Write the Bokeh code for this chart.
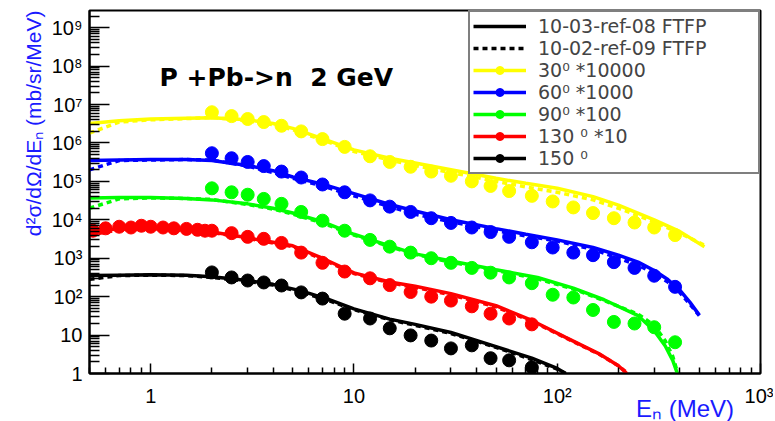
from bokeh.plotting import figure
from bokeh.models import Legend, LegendItem, Label, FixedTicker, Title
from bokeh.embed import file_html
from bokeh.resources import INLINE

# ---------------- data ----------------
# Monte-Carlo curves: 10-03-ref-08 FTFP (solid) and 10-02-ref-09 FTFP (dotted)
e_mc_30 = [0.5, 0.7, 1, 1.5, 2, 3, 4, 5, 7, 10, 15, 20, 30, 50, 70, 100, 150, 200, 300, 400, 530]
mc08_30 = [3.2e6, 3.8e6, 4.2e6, 4.4e6, 4.5e6, 4.0e6, 3.2e6, 2.4e6, 1.3e6, 6.6e5, 4.0e5, 3.0e5, 2.0e5,
           1.2e5, 8.9e4, 6.6e4, 4.0e4, 2.4e4, 1.0e4, 5.0e3, 2.0e3]
mc09_30 = [1.8e6, 3.5e6, 4.0e6, 4.3e6, 4.6e6, 3.8e6, 3.0e6, 2.2e6, 1.2e6, 6.0e5, 3.6e5, 2.6e5, 1.7e5,
           1.0e5, 7.2e4, 5.2e4, 3.3e4, 2.0e4, 8.9e3, 4.5e3, 2.2e3]

e_mc_60 = [0.5, 0.7, 1, 1.5, 2, 3, 4, 5, 7, 10, 15, 20, 30, 50, 70, 100, 150, 200, 250, 300, 350, 400, 450, 500]
mc08_60 = [3.5e5, 3.6e5, 3.7e5, 3.7e5, 3.5e5, 2.6e5, 1.9e5, 1.3e5, 8.5e4, 4.8e4, 2.5e4, 1.7e4, 1.0e4,
           5.9e3, 4.2e3, 3.0e3, 1.9e3, 1.2e3, 790, 480, 280, 150, 71, 33]
mc09_60 = [2.0e5, 3.5e5, 3.6e5, 3.7e5, 3.6e5, 2.5e5, 1.7e5, 1.2e5, 7.6e4, 4.2e4, 2.2e4, 1.4e4, 8.9e3,
           5.2e3, 3.8e3, 2.8e3, 1.7e3, 1.0e3, 660, 400, 240, 130, 63, 32]

e_mc_90 = [0.5, 0.7, 1, 1.5, 2, 3, 4, 5, 7, 10, 15, 20, 30, 50, 80, 120, 170, 250, 300, 340, 370, 390]
mc08_90 = [3.7e4, 3.8e4, 3.8e4, 3.6e4, 3.3e4, 2.6e4, 2.0e4, 1.5e4, 8.9e3, 4.2e3, 2.1e3, 1.3e3, 850,
           500, 316, 166, 83, 32, 13, 5.2, 2.2, 1.0]
mc09_90 = [2.0e4, 3.5e4, 3.7e4, 3.6e4, 3.4e4, 2.5e4, 1.9e4, 1.4e4, 8.3e3, 4.0e3, 2.0e3, 1.26e3, 790,
           480, 290, 158, 79, 35, 18, 7.1, 2.8, 1.1]

e_mc_130 = [0.5, 0.7, 1, 1.5, 2, 3, 4, 5, 7, 10, 15, 20, 30, 50, 75, 110, 160, 200, 220]
mc08_130 = [5.2e3, 5.8e3, 6.0e3, 5.6e3, 4.8e3, 3.4e3, 2.6e3, 2.1e3, 1.0e3, 417, 240, 186, 120, 58, 24,
            8.7, 3.3, 1.6, 1.0]
mc09_130 = [4.0e3, 5.5e3, 5.9e3, 5.5e3, 4.7e3, 3.3e3, 2.5e3, 2.0e3, 930, 400, 230, 174, 112, 54, 23,
            8.5, 3.2, 1.6, 1.05]

e_mc_150 = [0.5, 0.7, 1, 1.5, 2, 3, 4, 5.5, 7.5, 10, 15, 20, 30, 50, 75, 100, 110]
mc08_150 = [355, 363, 372, 363, 331, 263, 209, 141, 85, 48, 26, 19, 11.7, 5.0, 2.5, 1.35, 1.0]
mc09_150 = [282, 355, 363, 355, 316, 251, 200, 132, 79, 46, 25, 18, 11, 4.8, 2.3, 1.3, 1.0]

# Experimental points
e_dat = [2.0, 2.5, 3.0, 3.6, 4.4, 5.5, 7.0, 9.0, 12, 15, 19, 24, 30, 38, 47, 58, 75, 95, 120, 150,
         190, 240, 300, 380]
dat_30 = [6.3e6, 5.0e6, 4.2e6, 3.5e6, 2.8e6, 2.0e6, 1.26e6, 7.9e5, 4.5e5, 3.2e5, 2.4e5, 1.8e5, 1.4e5,
          1.0e5, 7.6e4, 5.6e4, 4.2e4, 3.0e4, 2.1e4, 1.5e4, 1.1e4, 8.5e3, 6.3e3, 4.0e3]
dat_60 = [5.4e5, 4.0e5, 3.2e5, 2.5e5, 1.8e5, 1.26e5, 8.3e4, 5.2e4, 3.2e4, 2.2e4, 1.6e4, 1.1e4, 8.3e3,
          6.3e3, 4.8e3, 3.6e3, 2.6e3, 1.9e3, 1.4e3, 1.2e3, 790, 560, 350, 180]
dat_90 = [6.6e4, 5.2e4, 4.5e4, 3.5e4, 2.6e4, 1.6e4, 9.5e3, 5.2e3, 3.0e3, 2.0e3, 1.4e3, 1.0e3, 760,
          560, 420, 316, 224, 112, 95, 45, 22, 20, 16, 6.5]
dat_130 = [5.2e3, 4.5e3, 3.6e3, 3.2e3, 2.5e3, 1.4e3, 760, 450, 300, 200, 132, 100, 79, 56, 36, 27, 19]
e_dat_130_low = [0.52, 0.6, 0.7, 0.8, 0.9, 1.0, 1.15, 1.3, 1.5, 1.7, 1.85]
dat_130_low = [5.2e3, 6.0e3, 6.6e3, 6.3e3, 7.0e3, 6.6e3, 6.3e3, 6.0e3, 5.8e3, 5.5e3, 5.2e3]
dat_150 = [427, 316, 263, 234, 195, 129, 89, 36, 27, 15, 9.8, 7.2, 4.5, 5.4, 2.5, 2.2, 1.45]

labels = ["30\u2070 *10000", "60\u2070 *1000", "90\u2070 *100", "130 \u2070 *10", "150 \u2070"]
colors = ["#ffff00", "#0000ff", "#00ff00", "#ff0000", "#000000"]

x_major = [1, 10, 100, 1000]
x_minor = [m * 10.0 ** d for d in range(-1, 3) for m in range(2, 10) if m * 10.0 ** d >= 0.5]
y_major = [10.0 ** d for d in range(0, 10)]
y_minor = [m * 10.0 ** d for d in range(0, 10) for m in range(2, 10)]
sup = ["1", "10", "10\u00b2", "10\u00b3", "10\u2074", "10\u2075", "10\u2076", "10\u2077", "10\u2078", "10\u2079"]

FONT = "Liberation Sans"
WIDE = "DejaVu Sans"
BLUE_TXT = "#1a1aff"

# ---------------- figure ----------------
p = figure(x_axis_type="log", y_axis_type="log", x_range=(0.5, 1000), y_range=(1, 2.8e9),
           frame_width=671, frame_height=363, min_border_left=89, min_border_right=13,
           min_border_top=10, min_border_bottom=48, output_backend="svg", toolbar_location=None)
p.background_fill_color = "white"
p.border_fill_color = "white"
p.outline_line_color = "black"
p.outline_line_width = 2
p.xgrid.visible = False
p.ygrid.visible = False

for ax, major, minor, tin, tmin in ((p.xaxis[0], x_major, x_minor, 10, 6),
                                    (p.yaxis[0], y_major, y_minor, 20, 10)):
    ax.ticker = FixedTicker(ticks=major, minor_ticks=minor)
    ax.major_tick_in = tin
    ax.major_tick_out = 0
    ax.minor_tick_in = tmin
    ax.minor_tick_out = 0
    ax.major_tick_line_width = 1.5
    ax.minor_tick_line_width = 1.5
    ax.axis_line_width = 2
    ax.major_label_text_font = FONT
    ax.major_label_text_font_size = "20px"
    ax.major_label_text_color = "black"
p.xaxis.major_label_overrides = {v: sup[i] for i, v in enumerate(x_major)}
p.yaxis.major_label_overrides = {v: sup[i] for i, v in enumerate(y_major)}
p.xaxis.major_label_standoff = 11
p.yaxis.major_label_standoff = 7

# x-axis title, pushed toward the right end of the axis (as in the reference)
p.xaxis.axis_label = "\u00a0" * 78 + "E\u2099 (MeV)"
p.xaxis.axis_label_text_font = FONT
p.xaxis.axis_label_text_font_size = "24px"
p.xaxis.axis_label_text_font_style = "normal"
p.xaxis.axis_label_text_color = BLUE_TXT
p.xaxis.axis_label_standoff = -15

mc_sets = [(e_mc_30, mc08_30, mc09_30), (e_mc_60, mc08_60, mc09_60), (e_mc_90, mc08_90, mc09_90),
           (e_mc_130, mc08_130, mc09_130), (e_mc_150, mc08_150, mc09_150)]
dat_sets = [(e_dat[:len(dat_30)], dat_30), (e_dat[:len(dat_60)], dat_60), (e_dat[:len(dat_90)], dat_90),
            (e_dat_130_low + e_dat[:len(dat_130)], dat_130_low + dat_130), (e_dat[:len(dat_150)], dat_150)]

solid_r, dot_r, pts_r = [], [], []
for (ex, a, b), c in zip(mc_sets, colors):
    solid_r.append(p.line(ex, a, line_color=c, line_width=3.5))
    dot_r.append(p.line(ex, b, line_color=c, line_width=3.5, line_dash="5 4"))
for (ex, d), c in zip(dat_sets, colors):
    pts_r.append(p.scatter(ex, d, marker="circle", size=13, fill_color=c, line_color=c))

items = [LegendItem(label="10-03-ref-08 FTFP", renderers=[solid_r[4]]),
         LegendItem(label="10-02-ref-09 FTFP", renderers=[dot_r[4]])]
for i in range(5):
    items.append(LegendItem(label=labels[i], renderers=[solid_r[i], pts_r[i]]))

legend = Legend(items=items, location="top_right", margin=0, padding=3, spacing=-3,
                glyph_width=53, glyph_height=20, label_height=20, label_width=217,
                label_standoff=12, label_text_font=WIDE, label_text_font_size="19px",
                label_text_line_height=0.9,
                border_line_color="black", border_line_width=2, background_fill_alpha=1.0)
p.add_layout(legend)

p.add_layout(Label(x=4.15, y=5.1e7, text="P +Pb->n\u00a0 2 GeV", text_align="center",
                   text_baseline="alphabetic", text_font=WIDE, text_font_style="bold",
                   text_font_size="25px", text_color="black"))

ytitle = Title(text="d\u00b2\u03c3/d\u03a9/dE\u2099 (mb/sr/MeV)", align="right", standoff=8,
               text_font=FONT, text_font_size="21px", text_font_style="normal",
               text_color=BLUE_TXT)
p.add_layout(ytitle, "left")

open("out.html", "w").write(file_html(p, INLINE))
